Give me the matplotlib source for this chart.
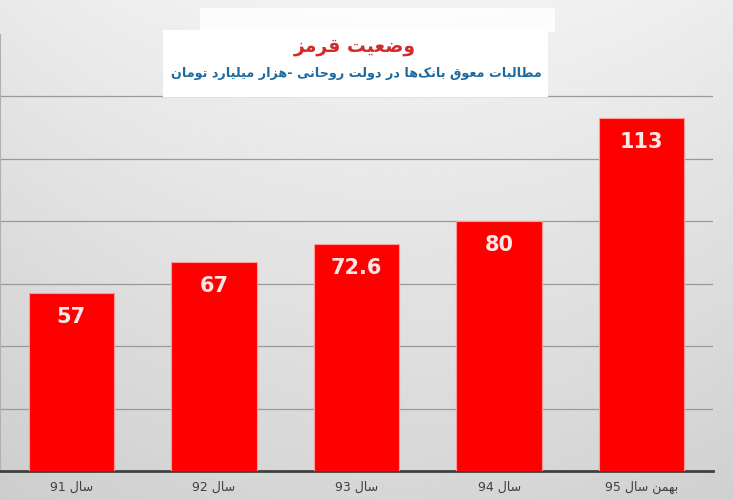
import numpy as np
import matplotlib
matplotlib.use("Agg")
import matplotlib.pyplot as plt
from matplotlib.patches import Rectangle

# datos
years = ["سال 91", "سال 92", "سال 93", "سال 94", "بهمن سال 95"]
values = [57, 67, 72.6, 80, 113]
value_labels = ["57", "67", "72.6", "80", "113"]
title = "وضعیت قرمز"
subtitle = "مطالبات معوق بانک‌ها در دولت روحانی -هزار میلیارد تومان"

# formas de presentacion: (aislada, final, inicial, medial)
FORMS = {
    "ا": (0xFE8D, 0xFE8E, None, None),
    "ب": (0xFE8F, 0xFE90, 0xFE91, 0xFE92),
    "ت": (0xFE95, 0xFE96, 0xFE97, 0xFE98),
    "ح": (0xFEA1, 0xFEA2, 0xFEA3, 0xFEA4),
    "د": (0xFEA9, 0xFEAA, None, None),
    "ر": (0xFEAD, 0xFEAE, None, None),
    "ز": (0xFEAF, 0xFEB0, None, None),
    "س": (0xFEB1, 0xFEB2, 0xFEB3, 0xFEB4),
    "ض": (0xFEBD, 0xFEBE, 0xFEBF, 0xFEC0),
    "ط": (0xFEC1, 0xFEC2, 0xFEC3, 0xFEC4),
    "ع": (0xFEC9, 0xFECA, 0xFECB, 0xFECC),
    "ق": (0xFED5, 0xFED6, 0xFED7, 0xFED8),
    "ل": (0xFEDD, 0xFEDE, 0xFEDF, 0xFEE0),
    "م": (0xFEE1, 0xFEE2, 0xFEE3, 0xFEE4),
    "ن": (0xFEE5, 0xFEE6, 0xFEE7, 0xFEE8),
    "ه": (0xFEE9, 0xFEEA, 0xFEEB, 0xFEEC),
    "و": (0xFEED, 0xFEEE, None, None),
    "ی": (0xFBFC, 0xFBFD, 0xFBFE, 0xFBFF),
    "ک": (0xFB8E, 0xFB8F, 0xFB90, 0xFB91),
}


def fa(text):
    # forma las letras y las pone en orden visual
    out = []
    n = len(text)
    for i, c in enumerate(text):
        if c not in FORMS:
            if c != "\u200c":
                out.append(c)
            continue
        iso, fin, ini, med = FORMS[c]
        prev = text[i - 1] if i > 0 else ""
        nxt = text[i + 1] if i + 1 < n else ""
        jp = prev in FORMS and FORMS[prev][2] is not None
        jn = ini is not None and nxt in FORMS
        if jp and jn:
            out.append(chr(med))
        elif jp:
            out.append(chr(fin))
        elif jn:
            out.append(chr(ini))
        else:
            out.append(chr(iso))
    s = "".join(out)[::-1]
    # los numeros quedan de izquierda a derecha
    res, run = "", ""
    for c in s:
        if c.isdigit() or (c == "." and run):
            run += c
        else:
            res += run[::-1] + c
            run = ""
    return res + run[::-1]


W, H = 733, 500
fig = plt.figure(figsize=(W / 100, H / 100), dpi=100)

# fondo degradado gris (claro arriba, oscuro abajo)
bg = fig.add_axes([0, 0, 1, 1], zorder=-10)
yy = np.linspace(0, 1, 200)[:, None]
xx = np.linspace(0, 1, 300)[None, :]
grad = 0.95 - 0.11 * yy - 0.03 * (np.abs(xx - 0.55) * 2) ** 2
bg.imshow(grad, cmap="gray", vmin=0, vmax=1, aspect="auto", extent=[0, 1, 0, 1])
bg.axis("off")

ax = fig.add_axes([0, 29 / H, 713 / W, (471 - 34) / H])
ax.set_facecolor("none")
x = np.arange(len(years))
ax.bar(x, values, width=0.6, color="#ff0000", edgecolor="#ff9a9a", linewidth=0.8, zorder=3)
for xi, v, lab in zip(x, values, value_labels):
    ax.annotate(lab, (xi, v), xytext=(0, -24), textcoords="offset pixels",
                ha="center", va="center", color="#fbe6e6", fontsize=15, fontweight="bold", zorder=4)

ax.set_xlim(-0.5, len(years) - 0.5)
ax.set_ylim(0, 140)
ax.set_yticks([20, 40, 60, 80, 100, 120])
ax.yaxis.grid(True, color="#9a9a9a", linewidth=0.9, zorder=0)
ax.tick_params(axis="y", left=False, labelleft=False)
ax.set_xticks(x)
ax.set_xticklabels([fa(t) for t in years], fontsize=9, color="#404040")
ax.tick_params(axis="x", length=0, pad=7)
for sp in ["top", "right"]:
    ax.spines[sp].set_visible(False)
ax.spines["left"].set_color("#b0b0b0")
ax.spines["left"].set_linewidth(0.8)
ax.spines["bottom"].set_color("#404040")
ax.spines["bottom"].set_linewidth(2)

# recuadro blanco del titulo
fig.patches.append(Rectangle((200 / W, 1 - 32 / H), 355 / W, 24 / H, transform=fig.transFigure,
                             facecolor="white", edgecolor="none", alpha=0.85, zorder=5))
fig.patches.append(Rectangle((163 / W, 1 - 97 / H), 385 / W, 67 / H, transform=fig.transFigure,
                             facecolor="white", edgecolor="none", zorder=5))
fig.text(355 / W, 1 - 47 / H, fa(title), ha="center", va="center", color="#d42a2a",
         fontsize=13.5, fontweight="bold", zorder=6)
fig.text(356 / W, 1 - 73 / H, fa(subtitle), ha="center", va="center", color="#1c6aa0",
         fontsize=9.2, fontweight="bold", zorder=6)

fig.savefig("out.png", dpi=100)
